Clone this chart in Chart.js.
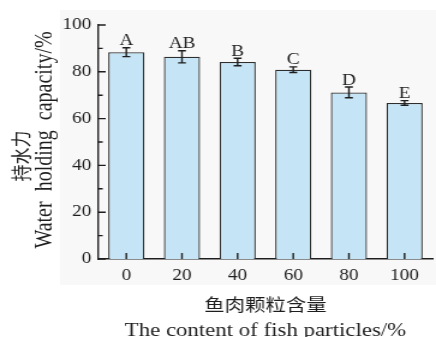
<!DOCTYPE html>
<html>
<head>
<meta charset="utf-8">
<script src="https://cdn.jsdelivr.net/npm/chart.js@4.4.1/dist/chart.umd.min.js"></script>
<style>
  html, body { margin: 0; padding: 0; background: #ffffff; }
  /* canvas is drawn narrow and widened by CSS, giving the figure its slightly stretched type */
  #chart { display: block; width: 436px !important; height: 337px !important; }
</style>
</head>
<body>
<canvas id="chart" width="363" height="337" style="width:436px;height:337px"></canvas>
<script>
// Fish particle content (%) on the x axis
const contents = ['0', '20', '40', '60', '80', '100'];
// Water holding capacity (%), mean values
const waterHolding = [88.4, 86.4, 84.2, 80.9, 71.2, 66.7];
// Standard deviations for the error bars
const sdError = [1.9, 2.6, 1.6, 1.2, 2.3, 1.0];
// Significance letters above each bar
const groupLetters = ['A', 'AB', 'B', 'C', 'D', 'E'];
// Labelled y ticks
const yTicks = [0, 20, 40, 60, 80, 100];
// Axis titles (Chinese line, English line)
const yTitle = ['持水力', 'Water  holding  capacity/%'];
const xTitle = ['鱼肉颗粒含量', 'The content of fish particles/%'];

const SERIF = '"Liberation Serif", "Times New Roman", serif';
const CJK = '"Noto Sans CJK SC", "Noto Sans", sans-serif';
const INK = '#1e1e1e';

const decorations = {
  id: 'decorations',
  beforeDraw(chart) {
    const { ctx, chartArea: a } = chart;
    ctx.save();
    ctx.fillStyle = '#f8f8f8';
    const left = a.left - 32, top = a.top - 15, bottom = a.bottom + 26;
    ctx.fillRect(left, top, chart.width - left, bottom - top);
    ctx.restore();
  },
  afterDatasetsDraw(chart) {
    const { ctx, chartArea: a } = chart;
    const xs = chart.scales.x, ys = chart.scales.y;
    const meta = chart.getDatasetMeta(0);
    ctx.save();
    ctx.strokeStyle = INK;
    ctx.fillStyle = INK;
    ctx.lineWidth = 1.4;

    // error bars and significance letters
    meta.data.forEach((bar, i) => {
      const v = waterHolding[i], e = sdError[i];
      const yt = ys.getPixelForValue(v + e);
      const yb = ys.getPixelForValue(v - e);
      const cx = bar.x, cap = 3.3;
      ctx.beginPath();
      ctx.moveTo(cx, yt); ctx.lineTo(cx, yb);
      ctx.moveTo(cx - cap, yt); ctx.lineTo(cx + cap, yt);
      ctx.moveTo(cx - cap, yb); ctx.lineTo(cx + cap, yb);
      ctx.stroke();
      ctx.font = '16px ' + SERIF;
      ctx.textAlign = 'center';
      ctx.textBaseline = 'alphabetic';
      ctx.fillText(groupLetters[i], cx, yt - 2.5);
    });

    // inward tick marks on the x axis (category centres)
    ctx.beginPath();
    xs.ticks.forEach((t, i) => {
      const px = xs.getPixelForTick(i);
      ctx.moveTo(px, a.bottom);
      ctx.lineTo(px, a.bottom - 6);
    });
    // inward major and minor ticks on the y axis
    yTicks.forEach((v, i) => {
      const py = ys.getPixelForValue(v);
      ctx.moveTo(a.left, py);
      ctx.lineTo(a.left + 6, py);
      if (i < yTicks.length - 1) {
        const pm = ys.getPixelForValue((v + yTicks[i + 1]) / 2);
        ctx.moveTo(a.left, pm);
        ctx.lineTo(a.left + 3.5, pm);
      }
    });
    ctx.stroke();
    ctx.restore();
  },
  afterDraw(chart) {
    const { ctx, chartArea: a } = chart;
    ctx.save();
    ctx.fillStyle = INK;
    ctx.textAlign = 'center';
    ctx.textBaseline = 'middle';

    // y axis title, two rotated lines
    const cy = (a.top + a.bottom) / 2;
    ctx.save();
    ctx.translate(17.5, cy + 14);
    ctx.rotate(-Math.PI / 2);
    ctx.font = '17px ' + CJK;
    ctx.fillText(yTitle[0], 0, 0);
    ctx.restore();
    ctx.save();
    ctx.translate(38, cy - 2);
    ctx.rotate(-Math.PI / 2);
    ctx.font = '20px ' + SERIF;
    ctx.fillText(yTitle[1], 0, 0);
    ctx.restore();

    // x axis title, two lines
    const cx = (a.left + a.right) / 2;
    ctx.font = '17px ' + CJK;
    ctx.fillText(xTitle[0], cx, a.bottom + 46);
    ctx.font = '19px ' + SERIF;
    ctx.fillText(xTitle[1], cx, a.bottom + 72);
    ctx.restore();
  }
};

new Chart(document.getElementById('chart'), {
  type: 'bar',
  data: {
    labels: contents,
    datasets: [{
      data: waterHolding,
      backgroundColor: '#c5e5f6',
      borderColor: '#2e2e2e',
      borderWidth: 1.3,
      barPercentage: 0.65,
      categoryPercentage: 1
    }]
  },
  options: {
    responsive: false,
    animation: false,
    devicePixelRatio: 1,
    layout: { padding: { top: 25, right: 3, bottom: 0, left: 0 } },
    plugins: { legend: { display: false }, tooltip: { enabled: false } },
    scales: {
      x: {
        grid: { display: false, drawTicks: false },
        border: { display: true, color: INK, width: 1.4 },
        ticks: { font: { family: SERIF, size: 16 }, color: INK, padding: 7, maxRotation: 0 },
        afterFit(s) { s.height = 78; }
      },
      y: {
        min: 0,
        max: 100,
        grid: { display: false, drawTicks: false },
        border: { display: true, color: INK, width: 1.4 },
        ticks: { font: { family: SERIF, size: 16 }, color: INK, padding: 6 },
        afterBuildTicks(s) { s.ticks = yTicks.map(v => ({ value: v })); },
        afterFit(s) { s.width = 82; }
      }
    }
  },
  plugins: [decorations]
});
</script>
</body>
</html>
